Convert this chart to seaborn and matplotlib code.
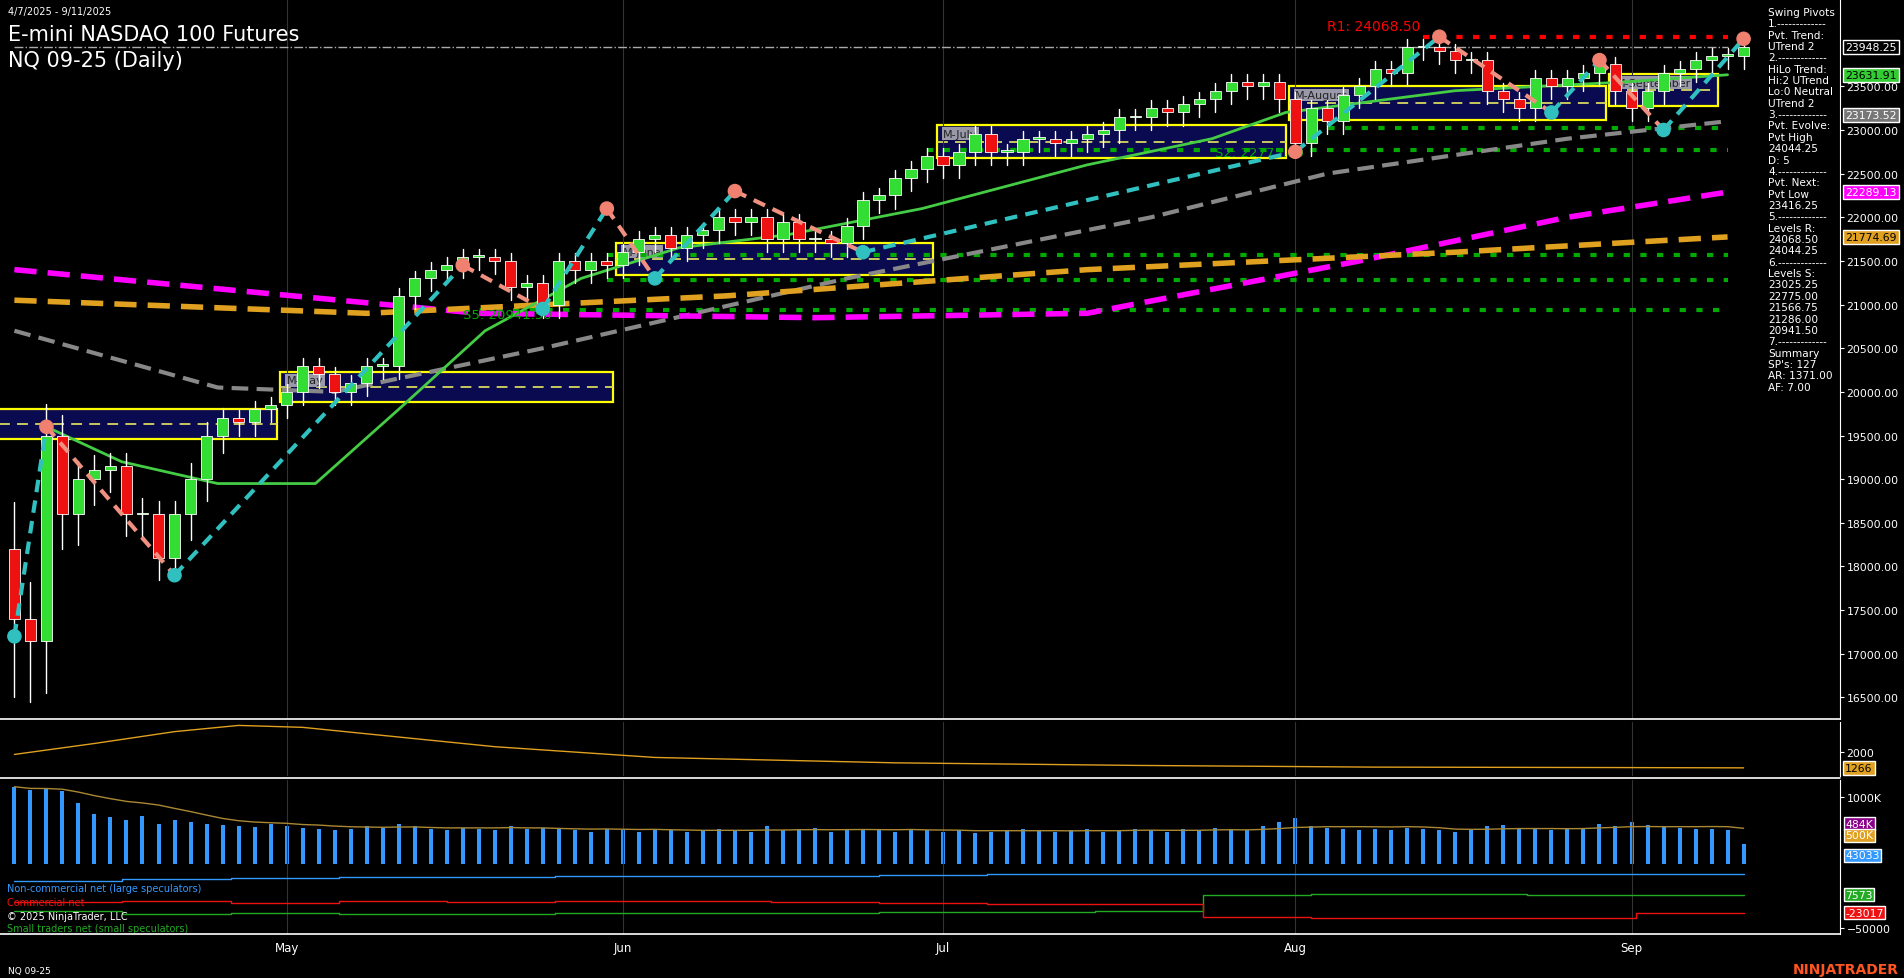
import numpy as np
import pandas as pd
import matplotlib
matplotlib.use("Agg")
import matplotlib.pyplot as plt
import seaborn as sns
from matplotlib.patches import Rectangle

sns.set_style("dark")
plt.rcParams['font.family'] = ['DejaVu Sans']

# ---- data ----
days = pd.bdate_range("2025-04-07", "2025-09-11")
days = days[~days.isin(pd.to_datetime(["2025-04-18", "2025-05-26", "2025-06-19", "2025-07-04", "2025-09-01"]))]
closes = [17400, 17150, 19500, 18600, 19000, 19100, 19150, 18600, 18600, 18100, 18600, 19000, 19500, 19700,
          19650, 19800, 19850, 20000, 20300, 20200, 20000, 20100, 20300, 20300, 21100, 21300, 21400, 21450,
          21550, 21550, 21500, 21200, 21250, 21000, 21500, 21400, 21500, 21450, 21600, 21750, 21800, 21650,
          21800, 21850, 22000, 21950, 22000, 21750, 21950, 21750, 21750, 21700, 21900, 22200, 22250, 22450,
          22550, 22700, 22600, 22750, 22950, 22750, 22750, 22900, 22900, 22850, 22900, 22950, 23000, 23150,
          23150, 23250, 23200, 23300, 23350, 23450, 23550, 23500, 23550, 23350, 22850, 23250, 23100, 23400,
          23500, 23700, 23650, 23950, 23950, 23900, 23800, 23800, 23450, 23350, 23250, 23600, 23500, 23600,
          23650, 23750, 23450, 23250, 23450, 23650, 23700, 23800, 23850, 23850, 23950]
opens = [18200] + closes[:-1]
wick = [900, 700, 600, 400, 350, 300, 250, 250, 300, 250, 250, 300, 250, 200] + [150] * 95

# moving averages: (day index, value) anchors
gray_x = [0, 12.7, 20, 33, 52, 71, 82, 97, 107]
gray_ma = [20700, 20050, 20000, 20500, 21300, 22000, 22500, 22900, 23100]
magenta_x = [0, 29, 50, 67, 84, 97, 107]
magenta_ma = [21400, 20900, 20850, 20900, 21500, 22000, 22289]
orange_x = [0, 22, 44.5, 67, 90, 107]
orange_ma = [21050, 20900, 21100, 21400, 21600, 21775]
green_x = [2, 6.7, 12.7, 18.8, 24, 29.4, 35.4, 41.5, 48.3, 56.7, 67, 74.8, 79.4, 90, 100.6, 107]
green_ma = [19600, 19200, 18950, 18950, 19800, 20700, 21300, 21650, 21800, 22100, 22600, 22900, 23200, 23450, 23550, 23632]

boxes = [("", -1, 16, 19465, 19800), ("M-May", 17, 37, 19882, 20230), ("M-June", 38, 57, 21343, 21704),
         ("M-July", 58, 79, 22678, 23053), ("M-August", 80, 99, 23109, 23499), ("M-September", 100, 106, 23276, 23638)]
s_levels = [(23025.25, 80), (22775.0, 57), (21566.75, 37), (21286.0, 37), (20941.5, 28)]

volume = [1150, 1100, 1120, 1080, 900, 750, 700, 650, 720, 600, 650, 620, 600, 580, 560, 550, 600, 560, 540, 520,
          500, 520, 560, 540, 600, 560, 520, 500, 540, 520, 500, 560, 520, 540, 520, 500, 480, 520, 500, 480,
          520, 500, 480, 500, 520, 500, 480, 560, 500, 520, 540, 480, 500, 520, 500, 480, 520, 500, 480, 500,
          460, 480, 500, 520, 500, 480, 500, 520, 480, 500, 520, 500, 480, 520, 500, 540, 520, 500, 560, 620,
          680, 560, 540, 520, 500, 520, 500, 540, 520, 500, 480, 520, 560, 580, 540, 520, 500, 520, 540, 600,
          560, 620, 580, 560, 540, 520, 520, 500, 300]
atr_x = [0, 5, 10, 14, 18, 24, 30, 40, 55, 70, 85, 100, 108]
atr = [1890, 2400, 2950, 3240, 3150, 2700, 2250, 1750, 1500, 1380, 1300, 1280, 1266]
cot_large = [30000, 34000, 36000, 38000, 38000, 39000, 40000, 40000, 41000, 42000, 42000, 43000, 43000, 43000, 42000, 43033, 43033]
cot_comm = [-5000, -4000, -6000, -3000, -5000, -4000, -4000, -5000, -6000, -8000, -8000, -30000, -32000, -32000, -32000, -23017, -23017]
cot_small = [-20000, -25000, -24000, -26000, -25000, -24000, -24000, -23000, -22000, -22000, -20000, 7000, 8000, 7800, 7500, 7573, 7573]
cot_idx = np.linspace(0, 108, 17)

sw_i = [0, 2, 10, 28, 33, 37, 40, 45, 53, 80, 89, 96, 99, 103, 108]
sw_v = [17200, 19600, 17900, 21450, 20950, 22100, 21300, 22300, 21600, 22750, 24068, 23200, 23800, 23000, 24044]

# ---- figure ----
W, H = 1568, 806
XR = 1515
fig = plt.figure(figsize=(19.04, 9.79), dpi=100, facecolor="black")
def box(x0, y0, x1, y1):
    return [x0 / W, 1 - y1 / H, (x1 - x0) / W, (y1 - y0) / H]
ax = fig.add_axes(box(0, 0, XR, 593))
ax2 = fig.add_axes(box(0, 595, XR, 640), sharex=ax)
ax3 = fig.add_axes(box(0, 643, XR, 712), sharex=ax)
ax4 = fig.add_axes(box(0, 712, XR, 770), sharex=ax)
for a in (ax, ax2, ax3, ax4):
    a.set_facecolor("black")
    a.grid(False)
    for s in a.spines.values():
        s.set_visible(False)
    a.spines["right"].set_visible(True)
    a.spines["right"].set_color("white")
    a.yaxis.tick_right()
    a.tick_params(colors="white", labelsize=7.8, length=3, color="white", pad=2)
ax.set_xlim(-0.9, 114)
ax.set_ylim(16250, 24500)
ax.set_yticks(range(16500, 24000, 500))
ax.set_yticklabels([f"{v:.2f}" for v in range(16500, 24000, 500)])

xi = np.arange(len(closes))
months = ["May", "Jun", "Jul", "Aug", "Sep"]
mpos = [list(days.month).index(m) for m in (5, 6, 7, 8, 9)]
for a in (ax, ax2, ax3, ax4):
    for p in mpos:
        a.axvline(p, color="#333333", lw=0.8)

# boxes
for lab, a0, a1, lo, hi in boxes:
    ax.add_patch(Rectangle((a0 - 0.4, lo), a1 - a0 + 0.8, hi - lo, facecolor="#0a0a50", edgecolor="yellow", lw=1.6, zorder=1))
    ax.plot([a0 - 0.4, a1 + 0.4], [(lo + hi) / 2] * 2, color="#d8d860", ls=(0, (6, 4)), lw=1.3, zorder=1)
    if lab:
        ax.text(a0, hi - 40, lab, color="#222222", fontsize=8, va="top",
                bbox=dict(facecolor="#9999aa", edgecolor="none", pad=1), zorder=2)

# levels
ax.plot([0, 107], [23948.25] * 2, color="#aaaaaa", ls="-.", lw=1)
ax.plot([88, 107], [24068.5] * 2, color="red", ls=(0, (1.5, 2.5)), lw=3)
ax.text(82, 24150, "R1: 24068.50", color="red", fontsize=10)
for v, st in s_levels:
    ax.plot([st, 107], [v] * 2, color="#00aa00", ls=(0, (1.5, 2.5)), lw=3)
ax.text(75, 22700, "S2: 22775.00", color="#00aa00", fontsize=9.5)
ax.text(28, 20850, "S5: 20941.50", color="#00aa00", fontsize=9.5)

# moving averages
sns.lineplot(x=gray_x, y=gray_ma, ax=ax, color="#888888", lw=3, linestyle=(0, (4, 2)))
sns.lineplot(x=magenta_x, y=magenta_ma, ax=ax, color="#ff00ff", lw=4, linestyle=(0, (4, 2)))
sns.lineplot(x=orange_x, y=orange_ma, ax=ax, color="#e0a020", lw=4, linestyle=(0, (4, 2)))
sns.lineplot(x=green_x, y=green_ma, ax=ax, color="#44cc44", lw=2)

# candles
for i, (o, c) in enumerate(zip(opens, closes)):
    lo, hi = min(o, c), max(o, c)
    ax.plot([i, i], [lo - wick[i], hi + wick[i] * 0.6], color="white", lw=1, zorder=3)
    ax.add_patch(Rectangle((i - 0.35, lo), 0.7, max(hi - lo, 15), facecolor="#33dd33" if c >= o else "#ee1111",
                           edgecolor="white", lw=0.6, zorder=4))

# swing lines
for k in range(len(sw_i) - 1):
    col = "#30c0c0" if sw_v[k + 1] > sw_v[k] else "#f09080"
    ax.plot(sw_i[k:k + 2], sw_v[k:k + 2], color=col, lw=3, ls=(0, (3, 2)), zorder=5)
ax.scatter(sw_i, sw_v, s=90, c=["#30c0c0" if sw_v[k] < sw_v[max(k - 1, 0)] or k == 0 else "#f08070"
                                for k in range(len(sw_i))], zorder=6)

# texts
fig.text(0.004, 0.993, "4/7/2025 - 9/11/2025", color="white", fontsize=7, va="top")
fig.text(0.004, 0.975, "E-mini NASDAQ 100 Futures", color="white", fontsize=15, va="top")
fig.text(0.004, 0.948, "NQ 09-25 (Daily)", color="white", fontsize=15, va="top")
info = ("Swing Pivots\n1.-------------\nPvt. Trend:\nUTrend 2\n2.-------------\nHiLo Trend:\nHi:2 UTrend\nLo:0 Neutral\n"
        "UTrend 2\n3.-------------\nPvt. Evolve:\nPvt High\n24044.25\nD: 5\n4.-------------\nPvt. Next:\nPvt Low\n23416.25\n"
        "5.-------------\nLevels R:\n24068.50\n24044.25\n6.-------------\nLevels S:\n23025.25\n22775.00\n21566.75\n21286.00\n"
        "20941.50\n7.-------------\nSummary\nSP's: 127\nAR: 1371.00\nAF: 7.00")
fig.text(1456 / W, 0.992, info, color="white", fontsize=7.6, va="top", linespacing=1.17)
for v, fc, tc in [(23948.25, "black", "white"), (23631.91, "#33cc33", "black"), (23173.52, "#777777", "white"),
                  (22289.13, "#ff00ff", "white"), (21774.69, "#e0a020", "black")]:
    ax.text(1.003, (v - 16250) / (24500 - 16250), f"{v:.2f}", transform=ax.transAxes, color=tc, fontsize=7.8, va="center",
            bbox=dict(facecolor=fc, edgecolor="white", pad=1.5), clip_on=False, zorder=10)

# lower panels
sns.lineplot(x=atr_x, y=atr, ax=ax2, color="#e0a020", lw=1)
ax2.set_ylim(870, 3412)
ax2.set_yticks([2000])
ax2.text(1.003, (1266 - 870) / (3412 - 870), "1266", transform=ax2.transAxes, color="black", fontsize=7.8, va="center",
         bbox=dict(facecolor="#e0a020", edgecolor="white", pad=1.5), clip_on=False)

ax3.bar(xi, volume, width=0.25, color="#3399ff", edgecolor="none", linewidth=0)
sns.lineplot(x=xi, y=pd.Series(volume).rolling(10, min_periods=1).mean(), ax=ax3, color="#aa8833", lw=1)
ax3.set_ylim(0, 1250)
ax3.set_yticks([1000])
ax3.set_yticklabels(["1000K"])
for yf, fc, lab in [(0.48, "#880088", "484K"), (0.34, "#e0a020", "500K"), (0.1, "#3399ff", "43033")]:
    ax3.text(1.003, yf, lab, transform=ax3.transAxes, color="white", fontsize=7.8,
             va="center", bbox=dict(facecolor=fc, edgecolor="white", pad=1.2), clip_on=False)

sns.lineplot(x=cot_idx, y=cot_large, ax=ax4, color="#3399ff", lw=1, drawstyle="steps-post")
sns.lineplot(x=cot_idx, y=cot_small, ax=ax4, color="#22aa22", lw=1, drawstyle="steps-post")
sns.lineplot(x=cot_idx, y=cot_comm, ax=ax4, color="#ee1111", lw=1, drawstyle="steps-post")
ax4.set_ylim(-60000, 60000)
ax4.set_yticks([-50000])
for v, fc in [(7573, "#22aa22"), (-23017, "#ee1111")]:
    ax4.text(1.003, (v + 60000) / 120000, str(v), transform=ax4.transAxes, color="white", fontsize=7.8, va="center",
             bbox=dict(facecolor=fc, edgecolor="white", pad=1.2), clip_on=False)
ax4.text(0.004, 0.62, "Non-commercial net (large speculators)", transform=ax4.transAxes, color="#3399ff", fontsize=7)
ax4.text(0.004, 0.42, "Commercial net", transform=ax4.transAxes, color="#ee1111", fontsize=7)
ax4.text(0.004, 0.22, "© 2025 NinjaTrader, LLC", transform=ax4.transAxes, color="white", fontsize=7)
ax4.text(0.004, 0.04, "Small traders net (small speculators)", transform=ax4.transAxes, color="#22aa22", fontsize=7)
ax4.set_xticks(mpos)
ax4.set_xticklabels(months)
ax4.tick_params(axis="x", colors="white", labelsize=8.5)
for a in (ax, ax2, ax3):
    a.tick_params(axis="x", labelbottom=False, length=0)
for a in (ax, ax2, ax3, ax4):
    a.set_ylabel("")
    a.set_xlabel("")
for yy in (593, 641, 770):
    fig.add_artist(plt.Line2D([0, XR / W], [1 - yy / H] * 2, color="white", lw=1.2))
fig.text(0.004, 0.005, "NQ 09-25", color="white", fontsize=6.5)
fig.text(0.997, 0.005, "NINJATRADER", color="#ff5522", fontsize=10, ha="right", weight="bold")
fig.savefig("out.png", dpi=100, facecolor="black")
